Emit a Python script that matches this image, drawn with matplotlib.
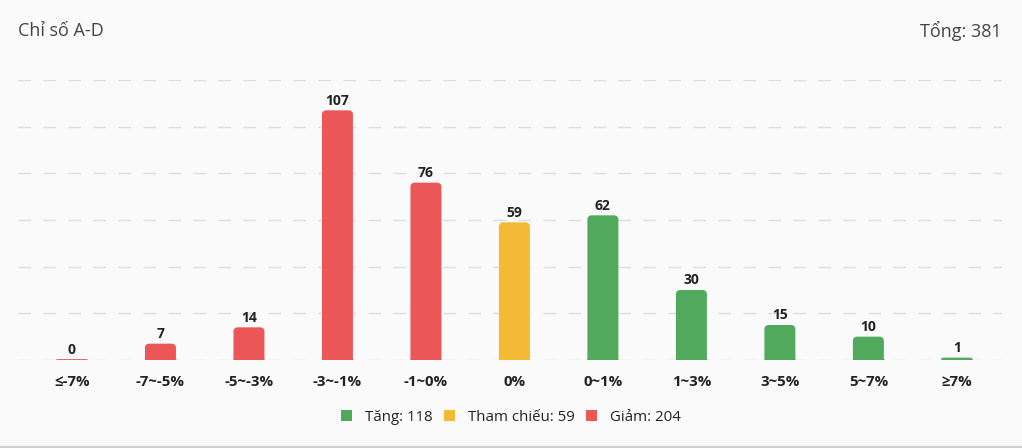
import matplotlib
matplotlib.use("Agg")
import matplotlib.pyplot as plt
from matplotlib.patches import PathPatch, Patch
from matplotlib.path import Path
import numpy as np

# Dữ liệu
nhan = ["≤-7%", "-7~-5%", "-5~-3%", "-3~-1%", "-1~0%", "0%", "0~1%", "1~3%", "3~5%", "5~7%", "≥7%"]
gia_tri = [0, 7, 14, 107, 76, 59, 62, 30, 15, 10, 1]
nhom = ["giam"] * 5 + ["tc"] + ["tang"] * 5
chu_giai = ["Tăng: 118", "Tham chiếu: 59", "Giảm: 204"]
tieu_de = "Chỉ số A-D"
tong = "Tổng: 381"

mau = {"tang": "#50a95d", "tc": "#f4b935", "giam": "#eb5757"}
plt.rcParams["font.family"] = ["Open Sans", "DejaVu Sans"]

fig = plt.figure(figsize=(10.22, 4.48), dpi=100)
fig.patch.set_facecolor("#fafafa")
W, H = 1022, 448
ax = fig.add_axes([18 / W, 1 - 360 / H, 984 / W, 280 / H])
ax.set_facecolor("#fafafa")

x = np.arange(len(gia_tri))
xmin, xmax = -0.61, 10.51
ax.set_xlim(xmin, xmax)
ax.set_ylim(0, 120)

# Lưới ngang nét đứt
for y in range(0, 121, 20):
    ax.axhline(y, color="#dcdce6", lw=1, ls=(0, (9, 9)), zorder=0)

rong = 0.35
px_x = 984 / (xmax - xmin)
px_y = 280 / 120


def cot_bo_goc(x0, w, h, rx, ry):
    # cột có hai góc trên bo tròn
    k = 0.55
    v = [(x0, 0), (x0, h - ry),
         (x0, h - ry + k * ry), (x0 + rx - k * rx, h), (x0 + rx, h),
         (x0 + w - rx, h),
         (x0 + w - rx + k * rx, h), (x0 + w, h - ry + k * ry), (x0 + w, h - ry),
         (x0 + w, 0), (x0, 0)]
    c = [Path.MOVETO, Path.LINETO, Path.CURVE4, Path.CURVE4, Path.CURVE4,
         Path.LINETO, Path.CURVE4, Path.CURVE4, Path.CURVE4, Path.LINETO, Path.CLOSEPOLY]
    return Path(v, c)


for xi, v, g in zip(x, gia_tri, nhom):
    c = mau[g]
    if v > 0:
        r_px = min(4, v * px_y / 2)
        ax.add_patch(PathPatch(cot_bo_goc(xi - rong / 2, rong, v, r_px / px_x, r_px / px_y),
                               fc=c, ec="none", zorder=2))
    ax.hlines(0, xi - rong / 2, xi + rong / 2, colors=c, lw=2, zorder=3)
    ax.text(xi, v + 1.2, str(v), ha="center", va="bottom", fontsize=10,
            fontweight="bold", color="#222222")

ax.set_xticks(x)
ax.set_xticklabels(nhan, fontsize=10.8, fontweight="bold", color="#222222")
ax.tick_params(axis="x", length=0, pad=11)
ax.set_yticks([])
for s in ax.spines.values():
    s.set_visible(False)

fig.text(18 / W, 1 - 31 / H, tieu_de, fontsize=13, color="#444444", va="center", ha="left")
fig.text(1002 / W, 1 - 31 / H, tong, fontsize=13, color="#444444", va="center", ha="right")

tay_cam = [Patch(fc=mau["tang"]), Patch(fc=mau["tc"]), Patch(fc=mau["giam"])]
fig.legend(tay_cam, chu_giai, loc="center", bbox_to_anchor=(511 / W, 1 - 417 / H),
           ncol=3, frameon=False, fontsize=10.8, handlelength=0.75, handleheight=0.75,
           handletextpad=0.9, columnspacing=0.7, labelcolor="#222222")

fig.add_artist(plt.Line2D([0, 1], [1.5 / H, 1.5 / H], color="#cfcfd6", lw=1.5))

fig.savefig("out.png", dpi=100, facecolor=fig.get_facecolor())
